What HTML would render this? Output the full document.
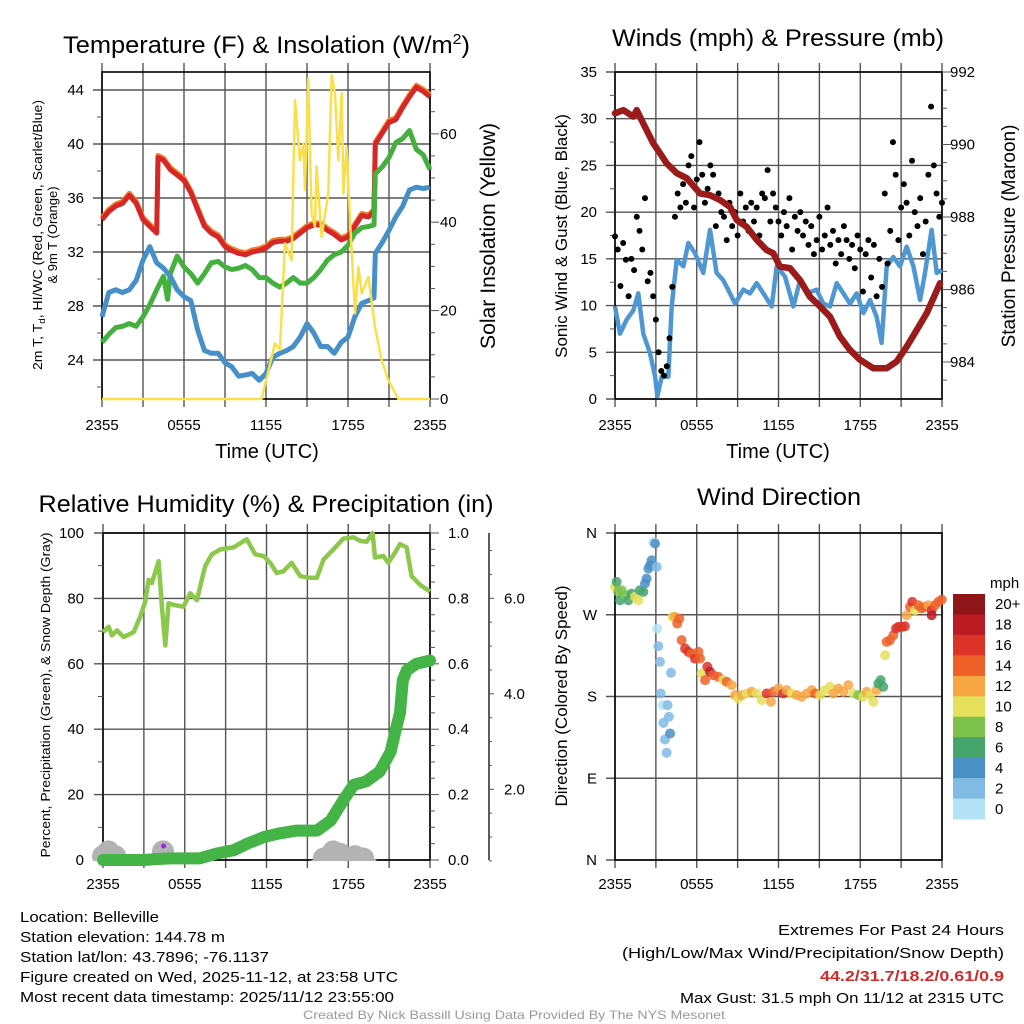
<!DOCTYPE html>
<html><head><meta charset="utf-8">
<style>
html,body{margin:0;padding:0;background:#fff;}
svg{display:block;font-family:"Liberation Sans",sans-serif;}
</style></head>
<body>
<svg id="fig" width="1024" height="1024" viewBox="0 0 1024 1024" xmlns="http://www.w3.org/2000/svg">
<rect width="1024" height="1024" fill="#fff"/>
<text x="63" y="53" font-size="24" textLength="407" lengthAdjust="spacingAndGlyphs">Temperature (F) &amp; Insolation (W/m<tspan dy="-9" font-size="15">2</tspan><tspan dy="9">)</tspan></text>
<text x="778" y="46" font-size="24" text-anchor="middle" textLength="332" lengthAdjust="spacingAndGlyphs">Winds (mph) &amp; Pressure (mb)</text>
<text x="266" y="512" font-size="24" text-anchor="middle" textLength="455" lengthAdjust="spacingAndGlyphs">Relative Humidity (%) &amp; Precipitation (in)</text>
<text x="779" y="505" font-size="24" text-anchor="middle" textLength="164" lengthAdjust="spacingAndGlyphs">Wind Direction</text>
<text x="267" y="458" font-size="20" text-anchor="middle">Time (UTC)</text>
<text x="778" y="458" font-size="20" text-anchor="middle">Time (UTC)</text>
<text transform="translate(42,235) rotate(-90)" font-size="13" text-anchor="middle" textLength="270" lengthAdjust="spacingAndGlyphs">2m T, T<tspan font-size="9" dy="3">d</tspan><tspan dy="-3">, HI/WC (Red, Green, Scarlet/Blue)</tspan></text>
<text transform="translate(57,235) rotate(-90)" font-size="13" text-anchor="middle">&amp; 9m T (Orange)</text>
<text transform="translate(495,236) rotate(-90)" font-size="21" text-anchor="middle" textLength="226" lengthAdjust="spacingAndGlyphs">Solar Insolation (Yellow)</text>
<text transform="translate(567,236) rotate(-90)" font-size="17" text-anchor="middle">Sonic Wind &amp; Gust (Blue, Black)</text>
<text transform="translate(1015,236) rotate(-90)" font-size="19" text-anchor="middle">Station Pressure (Maroon)</text>
<text transform="translate(50,695) rotate(-90)" font-size="13" text-anchor="middle" textLength="325" lengthAdjust="spacingAndGlyphs">Percent, Precipitation (Green), &amp; Snow Depth (Gray)</text>
<text transform="translate(567,696) rotate(-90)" font-size="17" text-anchor="middle">Direction (Colored By Speed)</text>
<g id="p1"></g>
<g id="p2"></g>
<g id="p3"></g>
<g id="p4"></g>
<g font-size="15">
<text x="20" y="922" textLength="139" lengthAdjust="spacingAndGlyphs">Location: Belleville</text>
<text x="20" y="942" textLength="205" lengthAdjust="spacingAndGlyphs">Station elevation: 144.78 m</text>
<text x="20" y="962" textLength="249" lengthAdjust="spacingAndGlyphs">Station lat/lon: 43.7896; -76.1137</text>
<text x="20" y="982" textLength="378" lengthAdjust="spacingAndGlyphs">Figure created on Wed, 2025-11-12, at 23:58 UTC</text>
<text x="20" y="1002" textLength="374" lengthAdjust="spacingAndGlyphs">Most recent data timestamp: 2025/11/12 23:55:00</text>
</g>
<g font-size="15">
<text x="778" y="935" textLength="226" lengthAdjust="spacingAndGlyphs">Extremes For Past 24 Hours</text>
<text x="622" y="958" textLength="382" lengthAdjust="spacingAndGlyphs">(High/Low/Max Wind/Precipitation/Snow Depth)</text>
<text x="820" y="981" textLength="184" lengthAdjust="spacingAndGlyphs" fill="#d22b2b" font-weight="bold">44.2/31.7/18.2/0.61/0.9</text>
<text x="680" y="1003" textLength="324" lengthAdjust="spacingAndGlyphs">Max Gust: 31.5 mph On 11/12 at 2315 UTC</text>
</g>
<text x="303" y="1019" font-size="12" fill="#999" textLength="422" lengthAdjust="spacingAndGlyphs">Created By Nick Bassill Using Data Provided By The NYS Mesonet</text>
</svg>
<script>
const xTickLabels = ["2355","0555","1155","1755","2355"];
const tempTimes = [0,0.5,1,1.5,2,2.5,3,3.5,4,4.1,4.5,5,5.5,6,6.5,7,7.5,8,8.5,9,9.5,10,10.5,11,11.5,12,12.5,13,13.5,14,14.5,15,15.5,16,16.5,17,17.5,18,18.5,19,19.5,19.9,20,20.5,21,21.5,22,22.5,23,23.5,24];
const tempValues = [34.4,35.0,35.4,35.6,36.2,35.6,34.4,33.9,33.4,39.0,38.8,38.1,37.7,37.3,36.4,35.1,33.9,33.4,33.1,32.4,32.1,31.9,31.8,32.0,32.1,32.3,32.7,32.8,32.8,33.0,33.4,33.8,34.0,34.0,33.6,33.3,32.9,33.1,33.9,34.7,34.6,35.0,40.0,40.8,41.6,41.8,42.7,43.5,44.2,43.9,43.5];
const hiwcTimes = [0,0.5,1,1.5,2,2.5,3,3.5,4,4.5,4.8,5,5.5,6,6.5,7,7.5,8,8.5,9,9.5,10,10.5,11,11.5,12,12.5,13,13.5,14,14.5,15,15.5,16,16.5,17,17.5,18,18.5,19,19.5,19.9,20,20.5,21,21.5,22,22.5,23,23.5,24];
const hiwcValues = [25.3,25.9,26.4,26.5,26.7,26.5,27.2,28.1,29.2,30.2,28.5,30.4,31.7,30.9,30.4,29.7,30.4,31.2,31.3,30.9,30.7,30.8,31.0,30.7,30.1,30.1,29.7,29.4,29.7,30.1,29.7,29.7,30.1,30.7,31.4,31.8,32.0,32.5,33.4,33.8,33.9,34.0,37.8,38.3,39.0,40.1,40.4,41.0,39.6,39.2,38.1];
const dewTimes = [0,0.5,1,1.5,2,2.5,3,3.5,4,4.5,5,5.5,6,6.5,7,7.5,8,8.5,9,9.5,10,10.5,11,11.5,12,12.5,13,13.5,14,14.5,15,15.5,16,16.5,17,17.5,18,18.5,19,19.5,19.9,20,20.5,21,21.5,22,22.5,23,23.5,24];
const dewValues = [27.2,29.0,29.2,29.0,29.2,29.9,31.4,32.4,31.2,30.8,30.2,29.2,28.7,28.4,26.2,24.7,24.5,24.5,23.8,23.5,22.8,22.9,23.0,22.5,23.0,24.2,24.5,24.7,25.0,25.7,26.7,26.0,25.0,25.0,24.5,25.3,25.7,27.2,28.2,28.4,28.6,31.9,32.7,33.6,34.6,35.4,36.6,36.8,36.7,36.8];
const solarTimes = [0,11.68,12.66,13.02,13.39,13.87,14.12,14.48,14.73,14.85,15.09,15.34,15.58,15.70,16.07,16.56,16.80,17.05,17.29,17.54,17.66,17.90,18.15,18.51,18.76,19.0,19.49,19.97,20.46,20.95,21.68,24];
const solarValues = [0,0,12.6,11.1,35.2,31.4,67.6,54,57.8,47.3,72.5,42,39,52.6,36.7,46.5,73.3,69.2,54,69.2,46.5,57.1,40.5,19.4,29.9,23.9,27.7,16.4,8.8,4.3,0,0];
const tempTicks = [24,28,32,36,40,44];
const solarTicks = [0,20,40,60];

const presTimes = [0,0.61,1.35,1.59,2.08,2.81,3.30,3.79,4.53,5.26,6.24,6.97,7.71,8.44,8.93,9.66,10.4,11.13,11.62,12.11,12.84,13.58,14.31,15.05,15.78,16.51,17.25,17.98,18.96,19.94,20.67,21.4,22.14,22.87,23.85];
const presValues = [990.86,990.95,990.77,990.95,990.58,990.03,989.76,989.48,989.21,989.07,988.65,988.6,988.47,988.28,987.92,987.73,987.37,987.09,987.0,986.63,986.59,986.26,985.8,985.53,985.25,984.7,984.33,984.06,983.83,983.83,984.01,984.42,984.88,985.34,986.17];
const windTimes = [0,0.37,0.86,1.35,1.71,2.08,2.57,2.94,3.11,3.43,3.91,4.16,4.53,5.02,5.38,5.87,6.48,6.97,7.46,7.95,8.44,8.81,9.42,9.91,10.4,10.89,11.5,11.87,12.48,13.09,13.58,14.07,14.8,15.29,15.78,16.27,16.76,17.25,17.74,18.23,18.72,19.2,19.57,19.94,20.43,20.92,21.41,21.9,22.39,22.75,23.24,23.61,24];
const windValues = [9.9,7.0,8.5,9.5,11.3,7.0,4.9,2.4,0.3,2.4,2.4,9.9,14.9,14.2,16.7,15.6,13.5,18.1,13.5,12.7,11.3,10.2,11.7,11.3,12.4,11.3,9.9,14.2,13.1,9.9,12.7,11.3,11.7,10.2,9.9,12.4,11.3,10.2,11.3,9.2,10.6,8.8,6.0,14.2,15.2,14.2,16.3,14.2,10.6,13.5,18.1,13.5,13.8];
const gustValues = [17.4,16.0,12.1,16.7,14.9,11.0,15.0,13.8,19.5,18.0,16.0,21.5,12.6,13.5,11.0,8.5,5.0,3.0,2.5,3.5,6.5,12.0,19.5,22.0,20.5,23.0,21.0,25.0,26.0,20.5,23.5,27.5,24.0,21.0,22.5,25.0,24.0,18.5,22.0,20.0,19.5,17.0,21.0,18.5,20.0,17.5,22.0,19.0,20.5,18.0,21.0,19.0,20.5,17.5,22.0,21.5,24.5,19.0,22.0,20.5,19.0,17.5,20.0,18.5,21.5,16.0,19.5,18.0,20.0,17.5,19.0,16.5,18.5,15.5,17.0,19.5,16.0,17.5,20.5,16.5,18.0,14.5,17.0,15.5,18.5,17.0,15.0,16.5,14.0,17.5,16.0,11.5,15.5,17.0,13.0,16.5,11.0,15.0,12.0,22.0,14.5,18.0,27.5,24.0,17.0,20.5,23.0,21.0,17.5,25.5,20.0,18.5,21.5,15.5,19.0,24.0,31.3,25.0,22.0,19.5,21.0];
const gustStepHours = 0.2;
const windTicks = [0,5,10,15,20,25,30,35];
const presTicks = [984,986,988,990,992];

const rhTimes = [0,0.41,0.66,1.02,1.51,2.25,2.73,3.1,3.35,3.59,4.08,4.32,4.57,4.81,5.18,5.91,6.4,6.89,7.5,7.99,8.6,9.58,10.55,11.17,11.78,12.27,12.75,13.24,13.85,14.47,15.2,15.69,16.18,16.91,17.64,18.38,18.86,19.35,19.79,19.96,20.57,20.94,21.43,21.79,22.28,22.65,23.26,24];
const rhValues = [69.7,71.3,68.7,70.2,68.2,69.7,74.4,79,85.7,84.7,91.4,77.5,65.6,78.5,78,77.5,81.6,79.5,89.9,93.5,95,95.6,98.1,93.5,93,90.9,87.8,88.3,90.9,86.8,86.3,86.3,91.9,95,98.3,98.7,97.6,97.3,100,92.5,93,90.9,94,96.6,95.6,86.8,84.2,82.1];
const precipTimes = [0,1,2,3,4,5,6,7.1,8.35,9.6,10.6,11.8,12.8,14.2,15.7,16.7,17.6,18.4,19.3,20.3,21.1,21.5,21.8,22.0,22.3,23.0,24];
const precipValues = [0,0,0,0,0.003,0.005,0.005,0.005,0.02,0.03,0.05,0.07,0.08,0.09,0.09,0.12,0.18,0.23,0.24,0.27,0.33,0.40,0.45,0.55,0.58,0.60,0.61];
const snowTimes = [0,0.4,0.9,4.4,4.7,15.6,16.2,16.9,17.4,18.0,18.5,19.1,19.5];
const snowValues = [0.6,0.7,0.6,0.7,0.4,0.3,0.55,0.7,0.65,0.55,0.6,0.55,0.35];
const rhTicks = [0,20,40,60,80,100];
const precipTicks = [0,0.2,0.4,0.6,0.8,1.0];
const snowTicks = [2,4,6];

const dirTimes = [0,0.12,0.24,0.37,0.49,0.73,0.98,1.22,1.47,1.71,1.83,2.08,2.2,2.32,2.45,2.57,2.69,2.81,2.94,3.06,3.11,3.18,3.3,3.35,3.5,3.55,3.67,3.79,3.86,3.96,4.04,4.11,4.23,4.4,4.57,4.72,4.89,5.14,5.38,5.63,5.87,6.12,6.24,6.36,6.61,6.78,6.97,7.22,7.58,7.95,8.2,8.56,8.81,9.05,9.3,9.66,10.03,10.4,10.76,11.13,11.45,11.62,11.99,12.35,12.6,12.97,13.33,13.7,14.07,14.44,14.68,15.05,15.41,15.78,16.02,16.39,16.76,17.12,17.49,17.86,18.22,18.47,18.72,18.96,19.2,19.33,19.5,19.69,19.82,19.94,20.18,20.43,20.62,20.8,21.04,21.28,21.41,21.65,21.82,22.02,22.26,22.51,22.75,22.99,23.24,23.24,23.49,23.73,23.98];
const dirValues = [300.7,306.2,295.2,286,297,291.5,286,293.3,289.7,286,297,295.2,304.3,309.8,320.8,324.5,330,350.2,348.3,322.7,254.8,235.4,218.2,183.3,170.5,151,132.7,118,170.5,157.7,139.3,206.1,267.7,267.7,260.3,265.8,242,232.8,229.2,227.3,221.8,229.2,221.8,205.3,198,212.7,207.2,203.5,201.7,198,196.2,192.5,181.5,177.8,181.5,183.3,185.2,183.3,176,183.3,174.2,185.2,188.8,183.3,187,183.3,181.5,179.7,183.3,187,183.3,181.5,187,190.7,183.3,188.8,185.2,192.5,183.3,181.5,179.7,185.2,181.5,174.2,187,194.3,198,190.7,225.5,240.2,242,247.5,254.8,256.7,256.7,257.4,269.5,278.7,284.2,275,280.5,277,278.7,280.5,275,269.5,280.5,284.2,286.7];
const dirSpeeds = [10,6,8,6,8,8,7,6,10,10,7,6,4,4,4,4,4,1,4,2,1,3,3,3,1,3,3,3,3,3,4,3,11,12,14,14,14,17,16,15,16,14,14,11,14,16,19,14,14,11,14,12,12,11,12,10,12,11,10,16,12,14,13,16,12,11,12,12,13,13,14,10,11,10,12,12,13,12,11,8,10,12,10,10,12,7,6,7,10,14,14,15,16,17,17,16,13,14,17,10,15,14,15,12,17,18,14,14,14];
const dirTicks = [0,90,180,270,360];
const dirTickLabels = ["N","E","S","W","N"];
const cbarLabels = ["20+","18","16","14","12","10","8","6","4","2","0"];
const cbarColors = ["#8e1518","#bb1c24","#dc3328","#ef6029","#f6a643","#e5e05c","#7dc24b","#45a46c","#4a8fc6","#80bbe5","#b6e2f7"];

const NS="http://www.w3.org/2000/svg";
function mk(parent,tag,attrs,txt){const e=document.createElementNS(NS,tag);for(const k in attrs)e.setAttribute(k,attrs[k]);if(txt!==undefined)e.textContent=txt;parent.appendChild(e);return e;}
function pathD(xs,ys){return xs.map((x,i)=>(i?"L":"M")+x.toFixed(1)+" "+ys[i].toFixed(1)).join("");}
function speedColor(s){let idx=Math.min(10,Math.floor(s/2));return cbarColors[10-idx];}

function grid(g,L,R,T,B,xs,ys,name){
  xs.forEach(x=>{const l=mk(g,"line",{x1:x,x2:x,y1:T-9,y2:B+8,stroke:"#555","stroke-width":1.4});
    
    });
  ys.forEach(y=>{const l=mk(g,"line",{x1:L-9,x2:R,y1:y,y2:y,stroke:"#555","stroke-width":1.4});
    
    });
  const f=mk(g,"rect",{x:L,y:T,width:R-L,height:B-T,fill:"none",stroke:"#000","stroke-width":1.6});
  
  
}
function xLabels(g,xf,y,name){
  [0,6,12,18,24].forEach((h,i)=>{const t=mk(g,"text",{x:xf(h),y:y,"font-size":15,"text-anchor":"middle"},xTickLabels[i]);
    
    });
}

(function(){
  const g=document.getElementById("p1");
  const L=102,R=430,T=72,B=399;
  const x=t=>L+t*(R-L)/24, yT=v=>90+(44-v)*13.5, yS=v=>399-v*4.42;
  grid(g,L,R,T,B,[0,3,6,9,12,15,18,21,24].map(x),tempTicks.map(yT),"temp");
  for(let v=22;v<=44;v+=2){const l=mk(g,"line",{x1:L-5,x2:L,y1:yT(v),y2:yT(v),stroke:"#555","stroke-width":1});}
  for(let v=0;v<=70;v+=5){const l=mk(g,"line",{x1:R,x2:R+(v%20?5:9),y1:yS(v),y2:yS(v),stroke:"#555","stroke-width":1});}
  tempTicks.forEach(v=>{const t=mk(g,"text",{x:84,y:yT(v)+5,"font-size":15,"text-anchor":"end"},v);});
  solarTicks.forEach(v=>{const t=mk(g,"text",{x:440,y:yS(v)+5,"font-size":15},v);});
  xLabels(g,x,430,"temp");
  const orange=mk(g,"path",{d:pathD(tempTimes.map(x),tempValues.map(v=>yT(v+0.15))),fill:"none",stroke:"#f47b2a","stroke-width":5,"stroke-linejoin":"round"});
  
  
  const lines=[[tempTimes,tempValues,"#d62728","2m-temperature-line"],[hiwcTimes,hiwcValues,"#44b13f","heat-index-windchill-line"],[dewTimes,dewValues,"#4590c8","dewpoint-line"]];
  lines.forEach(([ts,vs,c,n])=>{const p=mk(g,"path",{d:pathD(ts.map(x),vs.map(yT)),fill:"none",stroke:c,"stroke-width":5,"stroke-linejoin":"round"});
    
    });
  const s=mk(g,"path",{d:pathD(solarTimes.map(x),solarValues.map(yS)),fill:"none",stroke:"#f9e04b","stroke-width":2.5,"stroke-linejoin":"round"});
  
  
})();

(function(){
  const g=document.getElementById("p2");
  const L=615,R=942,T=72,B=399;
  const x=t=>L+t*(R-L)/24, yW=v=>399-v*9.343, yP=p=>72+(992-p)*36.25;
  grid(g,L,R,T,B,[0,3,6,9,12,15,18,21,24].map(x),windTicks.map(yW),"wind");
  for(let v=0;v<=35;v+=2.5){const l=mk(g,"line",{x1:L-5,x2:L,y1:yW(v),y2:yW(v),stroke:"#555","stroke-width":1});}
  for(let p=983.5;p<=992;p+=0.5){const l=mk(g,"line",{x1:R,x2:R+(p%2?5:9),y1:yP(p),y2:yP(p),stroke:"#555","stroke-width":1});}
  windTicks.forEach(v=>{const t=mk(g,"text",{x:597,y:yW(v)+5,"font-size":15,"text-anchor":"end"},v);});
  presTicks.forEach(v=>{const t=mk(g,"text",{x:950,y:yP(v)+5,"font-size":15},v);});
  xLabels(g,x,430,"wind");
  const w=mk(g,"path",{d:pathD(windTimes.map(x),windValues.map(yW)),fill:"none",stroke:"#4f97d2","stroke-width":4.5,"stroke-linejoin":"round"});
  
  
  gustValues.forEach((v,i)=>{const c=mk(g,"circle",{cx:x(i*gustStepHours),cy:yW(v),r:3,fill:"#000"});
    
    });
  const p=mk(g,"path",{d:pathD(presTimes.map(x),presValues.map(yP)),fill:"none",stroke:"#9b1b1b","stroke-width":6.5,"stroke-linejoin":"round","stroke-linecap":"round"});
  
  
})();

(function(){
  const g=document.getElementById("p3");
  const L=103,R=430,T=533,B=860;
  const x=t=>L+t*(R-L)/24, yR=v=>B-v*(B-T)/100, yPr=v=>B-v*(B-T), ySn=v=>884.8-v*47.75;
  grid(g,L,R,T,B,[0,3,6,9,12,15,18,21,24].map(x),rhTicks.map(yR),"humidity");
  for(let v=0;v<=100;v+=10){const l=mk(g,"line",{x1:L-5,x2:L,y1:yR(v),y2:yR(v),stroke:"#555","stroke-width":1});}
  for(let v=0;v<=1.0001;v+=0.05){const l=mk(g,"line",{x1:R,x2:R+(Math.round(v*100)%20?5:9),y1:yPr(v),y2:yPr(v),stroke:"#555","stroke-width":1});}
  rhTicks.forEach(v=>{const t=mk(g,"text",{x:84,y:yR(v)+5,"font-size":15,"text-anchor":"end"},v);});
  precipTicks.forEach(v=>{const t=mk(g,"text",{x:448,y:yPr(v)+5,"font-size":15},v.toFixed(1));});
  const sa=mk(g,"line",{x1:489,x2:489,y1:533,y2:860,stroke:"#333","stroke-width":1.6});
  
  
  for(let v=0.5;ySn(v)>=535;v+=0.5){const l=mk(g,"line",{x1:489,x2:489+(v%2?3:5),y1:ySn(v),y2:ySn(v),stroke:"#555","stroke-width":1});}
  snowTicks.forEach(v=>{const t=mk(g,"text",{x:504,y:ySn(v)+5,"font-size":15},v.toFixed(1));});
  xLabels(g,x,889,"humidity");
  const clip=mk(g,"clipPath",{id:"c3"});mk(clip,"rect",{x:L-12,y:T,width:R-L+24,height:B-T+1});
  const sg=mk(g,"g",{"clip-path":"url(#c3)"});
  snowTimes.forEach((t,i)=>{const c=mk(sg,"circle",{cx:x(t),cy:ySn(snowValues[i]),r:11,fill:"#b3b3b3"});
    
    });
  const pu=mk(g,"circle",{cx:x(4.45),cy:846,r:2.5,fill:"#a020f0"});
  const pr=mk(g,"path",{d:pathD(precipTimes.map(x),precipValues.map(yPr)),fill:"none",stroke:"#45b447","stroke-width":12,"stroke-linejoin":"round","stroke-linecap":"round"});
  
  
  const rh=mk(g,"path",{d:pathD(rhTimes.map(x),rhValues.map(yR)),fill:"none",stroke:"#8cc84b","stroke-width":4.5,"stroke-linejoin":"round"});
  
  
})();

(function(){
  const g=document.getElementById("p4");
  const L=615,R=942,T=533,B=860;
  const x=t=>L+t*(R-L)/24, yD=d=>B-d*(B-T)/360;
  grid(g,L,R,T,B,[0,3,6,9,12,15,18,21,24].map(x),dirTicks.map(yD),"direction");
  dirTicks.forEach((d,i)=>{const t=mk(g,"text",{x:597,y:yD(d)+5,"font-size":15,"text-anchor":"end"},dirTickLabels[i]);});
  xLabels(g,x,889,"direction");
  dirTimes.forEach((t,i)=>{const c=mk(g,"circle",{cx:x(t),cy:yD(dirValues[i]),r:5,fill:speedColor(dirSpeeds[i]),"fill-opacity":0.85});
    
    });
  const cb=mk(g,"g",{});
  
  
  const t0=mk(cb,"text",{x:990,y:588,"font-size":15},"mph");
  const top=594,h=(819-594)/11;
  cbarColors.forEach((c,i)=>{const r=mk(cb,"rect",{x:953,y:top+i*h,width:32,height:h+0.5,fill:c});
    
    
    const t=mk(cb,"text",{x:995,y:top+i*h+h/2+5,"font-size":15},cbarLabels[i]);
    
    });
})();
</script>
</body></html>
